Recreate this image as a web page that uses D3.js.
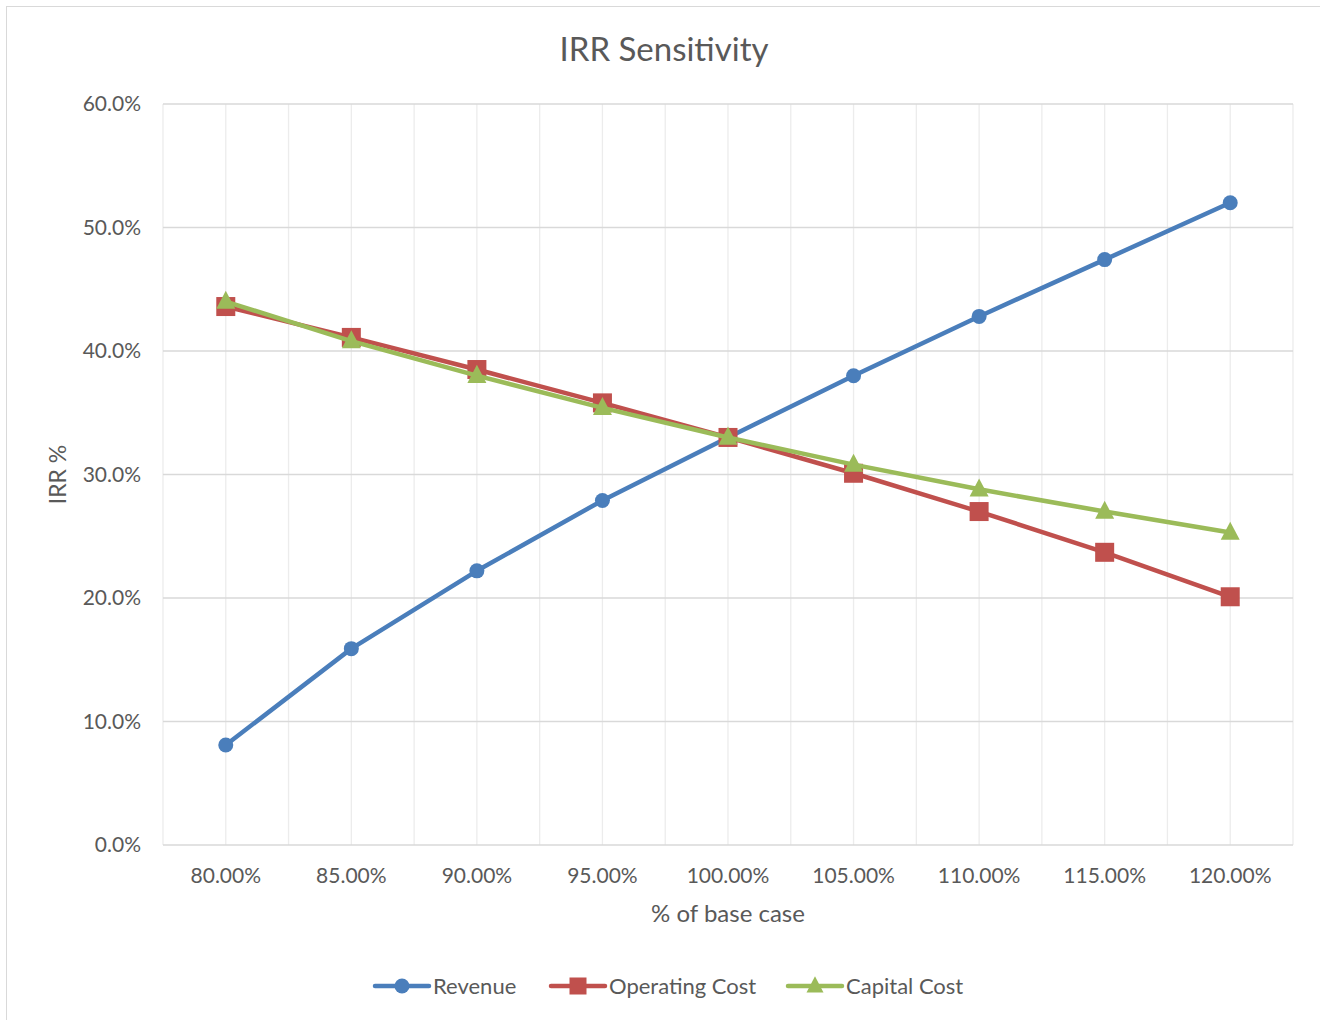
<!DOCTYPE html>
<html>
<head>
<meta charset="utf-8">
<script src="https://cdn.jsdelivr.net/npm/d3@7"></script>
<style>
  body { margin: 0; background: #fff; }
  text { font-family: Lato, "Open Sans", sans-serif; fill: #595959; }
</style>
</head>
<body>
<div id="chart"></div>
<script>
// categories (% of base case)
var categories = ['80.00%', '85.00%', '90.00%', '95.00%', '100.00%', '105.00%', '110.00%', '115.00%', '120.00%'];
// IRR % values
var revenue = [8.1, 15.9, 22.2, 27.9, 33.0, 38.0, 42.8, 47.4, 52.0];
var operatingCost = [43.6, 41.1, 38.5, 35.8, 33.0, 30.1, 27.0, 23.7, 20.1];
var capitalCost = [44.0, 40.8, 38.0, 35.4, 33.0, 30.8, 28.8, 27.0, 25.3];
var yTicks = [0, 10, 20, 30, 40, 50, 60];

var seriesList = [
  {name: 'Revenue', values: revenue, color: '#4a7ebb', marker: 'circle'},
  {name: 'Operating Cost', values: operatingCost, color: '#c0504d', marker: 'square'},
  {name: 'Capital Cost', values: capitalCost, color: '#9bbb59', marker: 'triangle'}
];

var width = 1320, height = 1020,
    margin = {top: 104, right: 27, bottom: 175, left: 163},
    innerWidth = width - margin.left - margin.right,
    innerHeight = height - margin.top - margin.bottom;

var svg = d3.select('#chart').append('svg')
  .attr('width', width)
  .attr('height', height);

// outer chart border
svg.append('rect')
  .attr('x', 6.5).attr('y', 6.5)
  .attr('width', width).attr('height', height)
  .attr('fill', 'none')
  .attr('stroke', '#d9d9d9');

var xScale = d3.scaleBand().domain(categories).range([0, innerWidth]);
var yScale = d3.scaleLinear().domain([0, 60]).range([innerHeight, 0]);

var g = svg.append('g')
  .attr('transform', 'translate(' + margin.left + ',' + margin.top + ')');

// vertical gridlines at band edges and centers
var vLines = [];
categories.forEach(function(c) {
  vLines.push(xScale(c));
  vLines.push(xScale(c) + xScale.bandwidth() / 2);
});
vLines.push(innerWidth);
g.selectAll('.vgrid')
  .data(vLines)
  .enter().append('line')
  .attr('x1', d => d).attr('x2', d => d)
  .attr('y1', 0).attr('y2', innerHeight)
  .attr('stroke', '#ececec')
  .attr('stroke-width', 1.3);

// horizontal gridlines
g.selectAll('.hgrid')
  .data(yTicks)
  .enter().append('line')
  .attr('x1', 0).attr('x2', innerWidth)
  .attr('y1', d => yScale(d)).attr('y2', d => yScale(d))
  .attr('stroke', '#d9d9d9')
  .attr('stroke-width', 1.3);

// y axis labels
var yAxis = d3.axisLeft(yScale).tickValues(yTicks).tickSize(0).tickPadding(22)
  .tickFormat(d => d.toFixed(1) + '%');
g.append('g').attr('class', 'y axis').call(yAxis)
  .call(s => s.select('.domain').remove())
  .selectAll('text').style('font-size', '21px').attr('fill', '#595959');

// x axis labels
var xAxis = d3.axisBottom(xScale).tickSize(0).tickPadding(23);
g.append('g').attr('class', 'x axis')
  .attr('transform', 'translate(0,' + innerHeight + ')')
  .call(xAxis)
  .call(s => s.select('.domain').remove())
  .selectAll('text').style('font-size', '21px').attr('fill', '#595959');

var xPos = d => xScale(d) + xScale.bandwidth() / 2;

var line = d3.line()
  .x((d, i) => xPos(categories[i]))
  .y(d => yScale(d));

function drawMarker(sel, type, color, size) {
  if (type === 'circle') {
    sel.append('circle').attr('r', size * 0.5).attr('fill', color);
  } else if (type === 'square') {
    sel.append('rect').attr('x', -size / 2).attr('y', -size / 2)
      .attr('width', size).attr('height', size).attr('fill', color);
  } else {
    // equilateral-ish triangle with side = size
    var h = size * 0.95;
    sel.append('path')
      .attr('d', 'M0,' + (-h * 0.6) + 'L' + (size / 2) + ',' + (h * 0.4) + 'L' + (-size / 2) + ',' + (h * 0.4) + 'Z')
      .attr('fill', color);
  }
}

seriesList.forEach(function(s) {
  g.append('path')
    .datum(s.values)
    .attr('d', line)
    .attr('fill', 'none')
    .attr('stroke', s.color)
    .attr('stroke-width', 4.5)
    .attr('stroke-linejoin', 'round')
    .attr('stroke-linecap', 'round');
  s.values.forEach(function(v, i) {
    var m = g.append('g').attr('transform', 'translate(' + xPos(categories[i]) + ',' + yScale(v) + ')');
    drawMarker(m, s.marker, s.color, s.marker === 'circle' ? 15 : 19);
  });
});

// title
svg.append('text')
  .attr('x', 664).attr('y', 61)
  .attr('text-anchor', 'middle')
  .style('font-size', '33px')
  .text('IRR Sensitivity');

// axis titles
svg.append('text')
  .attr('x', margin.left + innerWidth / 2).attr('y', 922)
  .attr('text-anchor', 'middle')
  .style('font-size', '24px')
  .text('% of base case');

svg.append('text')
  .attr('transform', 'translate(66,' + (margin.top + innerHeight / 2) + ') rotate(-90)')
  .attr('text-anchor', 'middle')
  .style('font-size', '23px')
  .text('IRR %');

// legend
var legendX = [375, 551, 788];
seriesList.forEach(function(s, i) {
  var lg = svg.append('g').attr('transform', 'translate(' + legendX[i] + ',986)');
  lg.append('line').attr('x1', 0).attr('x2', 54)
    .attr('stroke', s.color).attr('stroke-width', 4.5).attr('stroke-linecap', 'round');
  var m = lg.append('g').attr('transform', 'translate(27,0)');
  drawMarker(m, s.marker, s.color, s.marker === 'circle' ? 15 : 17);
  lg.append('text').attr('x', 58).attr('y', 8)
    .style('font-size', '22px')
    .text(s.name);
});
</script>
</body>
</html>
